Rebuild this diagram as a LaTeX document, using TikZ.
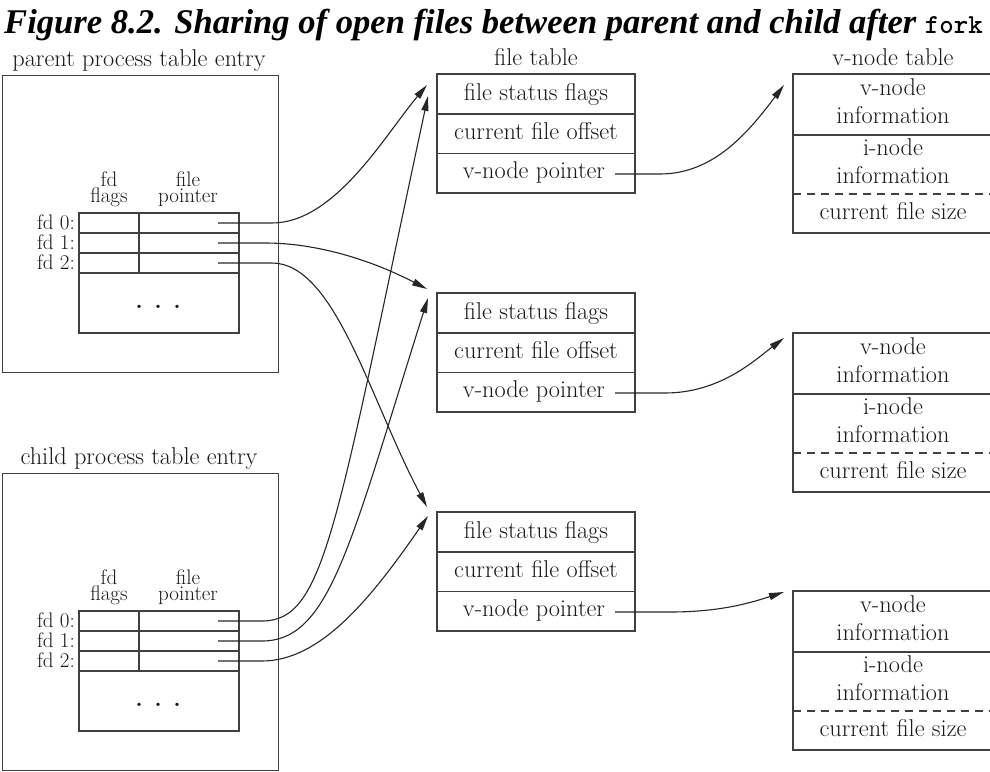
\documentclass[tikz,border=0pt]{standalone}
\usepackage{fontspec}
\newfontfamily\titlefont{Liberation Serif}
\usetikzlibrary{arrows.meta}
\tikzset{
  box/.style={draw=black!75, line width=1.2pt},
  lbl/.style={font=\fontsize{24.3}{28}\selectfont, text=black!90, inner sep=0pt, anchor=base},
  sml/.style={font=\fontsize{21}{16}\selectfont, text=black!90, inner sep=0pt, anchor=base},
  hdr/.style={font=\fontsize{21}{16}\selectfont, text=black!90, inner sep=0pt, anchor=south, align=center},
  ptr/.style={draw=black!85, line width=1.1pt, -{Triangle[length=15pt,width=7pt]}},
  dsh/.style={draw=black!75, line width=1.2pt, dash pattern=on 8pt off 6pt},
}
\newcommand\ProcTab[3]{%
 \begin{scope}[shift={(0,#2)}]
  \node[lbl] (#1title) at (139,66) {#3};
  \node[box, anchor=north west, minimum width=276pt, minimum height=297pt, inner sep=0pt] (#1box) at (2,75) {};
  \draw[box] (79,213) rectangle (239,333);
  \draw[box] (79,233)--(239,233) (79,253)--(239,253) (79,273)--(239,273) (139,213)--(139,273);
  \node[hdr] (#1fdflags) at (109,206.5) {fd\\flags};
  \node[hdr] (#1filepointer) at (188,206.5) {file\\pointer};
  \node[sml, anchor=base east] (#1fdz) at (75,229) {fd 0:};
  \node[sml, anchor=base east] (#1fdo) at (75,249) {fd 1:};
  \node[sml, anchor=base east] (#1fdt) at (75,269) {fd 2:};
  \node[inner sep=0pt, anchor=base, font=\fontsize{40}{40}\selectfont, text=black!90] (#1dots) at (158.5,308.5) {.\hspace{9pt}.\hspace{9pt}.};
  \coordinate (#1s0) at (218,223);
  \coordinate (#1s1) at (218,243);
  \coordinate (#1s2) at (218,263);
 \end{scope}}
\newcommand\FileTab[2]{%
  \draw[box] (437,#2) rectangle (635,#2+119);
  \draw[box] (437,#2+40)--(635,#2+40) (437,#2+79.5)--(635,#2+79.5);
  \node[lbl] (#1flags) at (536,#2+26) {file status flags};
  \node[lbl] (#1offset) at (536,#2+65) {current file offset};
  \node[lbl] (#1vptr) at (534,#2+104) {v-node pointer};
  \coordinate (#1out) at (615,#2+100);}
\newcommand\VnodeTab[2]{%
  \draw[box] (1000,#2) -- (793,#2) -- (793,#2+159) -- (1000,#2+159);
  \draw[box] (793,#2+61) -- (1000,#2+61);
  \draw[dsh] (793,#2+120) -- (1000,#2+120);
  \node[lbl] (#1va) at (893,#2+21) {v-node};
  \node[lbl] (#1vb) at (893,#2+49) {information};
  \node[lbl] (#1ia) at (893,#2+81) {i-node};
  \node[lbl] (#1ib) at (893,#2+109) {information};
  \node[lbl] (#1size) at (893,#2+145) {current file size};}
\begin{document}
\begin{tikzpicture}[x=1pt,y=-1pt]
\useasboundingbox (0,0) rectangle (990,771);
\clip (0,0) rectangle (990,771);
\fill[white] (0,0) rectangle (990,771);
% title
\node[anchor=base west, inner sep=0pt, font=\fontsize{34.6}{38}\selectfont] (title) at (4,33)
  {\titlefont\bfseries\itshape Figure 8.2. Sharing of open files between parent and child after {\ttfamily\bfseries\upshape\fontsize{27.5}{30}\selectfont fork}};
% process tables
\ProcTab{p}{0}{parent process table entry}
\ProcTab{c}{398}{child process table entry}
% file tables
\node[lbl] (fttitle) at (536,65) {file table};
\FileTab{fa}{74}
\FileTab{fb}{293}
\FileTab{fc}{512}
% v-node tables
\node[lbl] (vttitle) at (893,65) {v-node table};
\VnodeTab{va}{74}
\VnodeTab{vb}{333}
\VnodeTab{vc}{591}
% arrow targets
\coordinate (f1a) at (427,85);  \coordinate (f1b) at (428,96);
\coordinate (f2a) at (427,289); \coordinate (f2b) at (428,298);
\coordinate (f3a) at (427,507); \coordinate (f3b) at (428,516);
\coordinate (v1in) at (784,85);
\coordinate (v2in) at (784,338);
\coordinate (v3in) at (784,592);
% parent pointers
\draw[ptr] (ps0) -- (272,223) .. controls (335,223) and (385,135) .. (f1a);
\draw[ptr] (ps1) -- (265,243) .. controls (320,243) and (375,262) .. (f2a);
\draw[ptr] (ps2) -- (272,263) .. controls (335,263) and (370,400) .. (f3a);
% child pointers
\draw[ptr] (cs0) -- (262,621) .. controls (325,621) and (335,530) .. (f1b);
\draw[ptr] (cs1) -- (262,641) .. controls (330,641) and (350,545) .. (f2b);
\draw[ptr] (cs2) -- (262,661) .. controls (320,661) and (370,600) .. (f3b);
% v-node pointers
\draw[ptr] (faout) -- (660,174) .. controls (715,174) and (750,130) .. (v1in);
\draw[ptr] (fbout) -- (665,393) .. controls (720,393) and (755,360) .. (v2in);
\draw[ptr] (fcout) -- (670,612) .. controls (720,612) and (750,603) .. (v3in);
\end{tikzpicture}
\end{document}
